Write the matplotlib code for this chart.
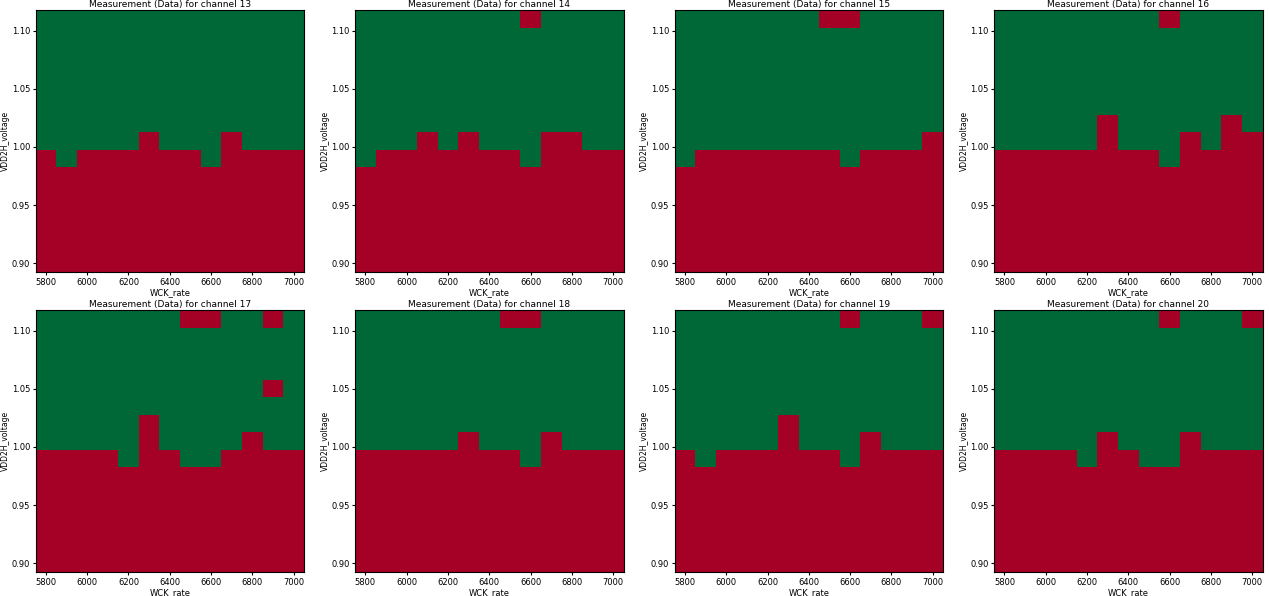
import matplotlib
matplotlib.use("Agg")
import matplotlib.pyplot as plt
import numpy as np

wck_rate = np.arange(5800, 7001, 100)
vdd2h_voltage = np.round(np.arange(0.90, 1.1101, 0.015), 3)

channels = [13, 14, 15, 16, 17, 18, 19, 20]

# index of highest failing voltage row per WCK_rate column
fail_top = {
    13: [6, 5, 6, 6, 6, 7, 6, 6, 5, 7, 6, 6, 6],
    14: [5, 6, 6, 7, 6, 7, 6, 6, 5, 7, 7, 6, 6],
    15: [5, 6, 6, 6, 6, 6, 6, 6, 5, 6, 6, 6, 7],
    16: [6, 6, 6, 6, 6, 8, 6, 6, 5, 7, 6, 8, 7],
    17: [6, 6, 6, 6, 5, 8, 6, 5, 5, 6, 7, 6, 6],
    18: [6, 6, 6, 6, 6, 7, 6, 6, 5, 7, 6, 6, 6],
    19: [6, 5, 6, 6, 6, 8, 6, 6, 5, 7, 6, 6, 6],
    20: [6, 6, 6, 6, 5, 7, 6, 5, 5, 7, 6, 6, 6],
}

# isolated failing points (WCK_rate, VDD2H_voltage)
extra_fails = {
    13: [],
    14: [(6600, 1.11)],
    15: [(6500, 1.11), (6600, 1.11)],
    16: [(6600, 1.11)],
    17: [(6500, 1.11), (6600, 1.11), (6900, 1.11), (6900, 1.05)],
    18: [(6500, 1.11), (6600, 1.11)],
    19: [(6600, 1.11), (7000, 1.11)],
    20: [(6600, 1.11), (7000, 1.11)],
}


def build_grid(ch):
    grid = np.ones((len(vdd2h_voltage), len(wck_rate)))
    for j, top in enumerate(fail_top[ch]):
        grid[:top + 1, j] = 0
    for x, y in extra_fails[ch]:
        j = int(np.argmin(np.abs(wck_rate - x)))
        i = int(np.argmin(np.abs(vdd2h_voltage - y)))
        grid[i, j] = 0
    return grid


fig, axes = plt.subplots(2, 4, figsize=(12.69, 5.96), dpi=100)
plt.subplots_adjust(left=0.028, right=0.995, top=0.983, bottom=0.04,
                    wspace=0.19, hspace=0.145)

for ax, ch in zip(axes.flat, channels):
    ax.pcolormesh(wck_rate, vdd2h_voltage, build_grid(ch),
                  cmap="RdYlGn", vmin=0, vmax=1, shading="nearest")
    ax.set_title(f"Measurement (Data) for channel {ch}", fontsize=6.5, pad=2)
    ax.set_xlabel("WCK_rate", fontsize=6, labelpad=1)
    ax.set_ylabel("VDD2H_voltage", fontsize=5.5, labelpad=1)
    ax.set_xticks([5800, 6000, 6200, 6400, 6600, 6800, 7000])
    ax.set_yticks([0.90, 0.95, 1.00, 1.05, 1.10])
    ax.tick_params(labelsize=6, length=2.5, pad=1.5)

fig.savefig("out.png", dpi=100)
